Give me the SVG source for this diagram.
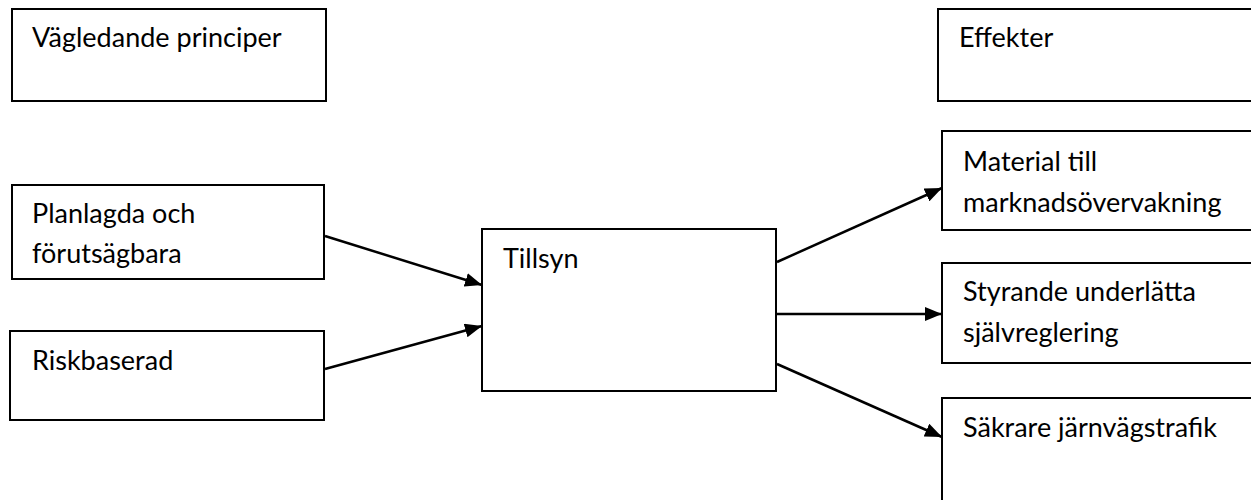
<svg xmlns="http://www.w3.org/2000/svg" width="1251" height="500" viewBox="0 0 1251 500">
  <defs>
    <marker id="arrow" markerUnits="userSpaceOnUse" markerWidth="17" markerHeight="14" refX="17" refY="7" orient="auto">
      <path d="M0,0 L17,7 L0,14 z" fill="#000"/>
    </marker>
    <style>
      .box { fill: #fff; stroke: #000; stroke-width: 2; }
      .lbl { font-family: Lato, "Liberation Sans", sans-serif; font-size: 27px; fill: #000; }
      .conn { stroke: #000; stroke-width: 2.5; fill: none; marker-end: url(#arrow); }
    </style>
  </defs>
  <rect width="1251" height="500" fill="#fff"/>
  <g id="vagledande">
    <rect class="box" x="12" y="9" width="314" height="92"/>
    <text class="lbl" x="32" y="47">Vägledande principer</text>
  </g>
  <g id="effekter">
    <rect class="box" x="938" y="9" width="330" height="92"/>
    <text class="lbl" x="959" y="47">Effekter</text>
  </g>
  <g id="planlagda">
    <rect class="box" x="12" y="185" width="312" height="94"/>
    <text class="lbl" x="32" y="223">Planlagda och</text>
    <text class="lbl" x="32" y="263">förutsägbara</text>
  </g>
  <g id="riskbaserad">
    <rect class="box" x="10" y="331" width="314" height="89"/>
    <text class="lbl" x="32" y="370">Riskbaserad</text>
  </g>
  <g id="tillsyn">
    <rect class="box" x="482" y="229" width="294" height="162"/>
    <text class="lbl" x="503" y="268">Tillsyn</text>
  </g>
  <g id="material">
    <rect class="box" x="942" y="131" width="330" height="99"/>
    <text class="lbl" x="963" y="171">Material till</text>
    <text class="lbl" x="963" y="212">marknadsövervakning</text>
  </g>
  <g id="styrande">
    <rect class="box" x="942" y="263" width="330" height="100"/>
    <text class="lbl" x="963" y="301">Styrande underlätta</text>
    <text class="lbl" x="963" y="342">självreglering</text>
  </g>
  <g id="sakrare">
    <rect class="box" x="942" y="398" width="330" height="120"/>
    <text class="lbl" x="963" y="437">Säkrare järnvägstrafik</text>
  </g>
  <g id="connectors">
    <line class="conn" x1="325" y1="236" x2="482" y2="285"/>
    <line class="conn" x1="325" y1="369" x2="482" y2="326"/>
    <line class="conn" x1="777" y1="262" x2="942" y2="188"/>
    <line class="conn" x1="777" y1="314" x2="942" y2="314"/>
    <line class="conn" x1="777" y1="364" x2="942" y2="437"/>
  </g>
</svg>
